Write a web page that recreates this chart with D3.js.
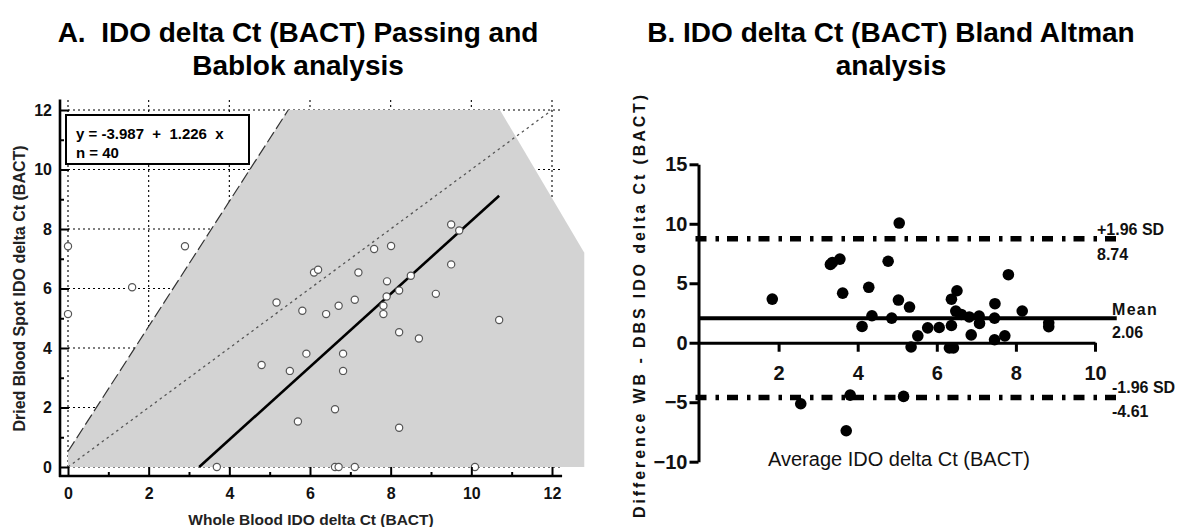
<!DOCTYPE html>
<html><head><meta charset="utf-8">
<script src="https://cdn.jsdelivr.net/npm/d3@7"></script>
<style>
body{margin:0;background:#fff;}
svg{display:block;font-family:Arial,"Liberation Sans",sans-serif;}
</style></head><body>
<svg id="chart" width="1189" height="527"></svg>
<script>
// ---------- Data ----------
// Panel A: Passing-Bablok scatter (Whole Blood vs Dried Blood Spot)
const wbDeltaCt  = [0, 2.90, 1.59, 0, 5.17, 4.80, 5.50, 5.70, 3.69, 5.81, 6.40, 6.71, 7.11, 7.90, 7.82, 7.82, 8.21, 9.12, 10.69, 8.21, 8.70, 5.91, 6.82, 6.82, 6.62, 8.21, 6.62, 6.71, 7.11, 10.09, 6.10, 6.20, 7.20, 7.59, 8.01, 7.91, 8.50, 9.50, 9.70, 9.50];
const dbsDeltaCt = [7.42, 7.42, 6.04, 5.14, 5.53, 3.43, 3.23, 1.53, 0, 5.25, 5.14, 5.42, 5.62, 5.73, 5.42, 5.14, 5.93, 5.82, 4.94, 4.53, 4.32, 3.81, 3.81, 3.23, 1.94, 1.32, 0, 0, 0, 0, 6.54, 6.63, 6.54, 7.33, 7.43, 6.24, 6.43, 8.15, 7.95, 6.81];
const pbIntercept = -3.987;
const pbSlope = 1.226;
const pbN = 40;
const pbFitRangeX = [3.252, 10.69];
const ciBandX = [0, 5.46, 10.71, 12.8, 12.8, 0];
const ciBandY = [0.52, 12, 12, 7.2, 0, 0];
const ciUpperX = [0, 5.46];
const ciUpperY = [0.52, 12];
const pbTicks = [0, 2, 4, 6, 8, 10, 12];
const pbMinorTicks = [1, 3, 5, 7, 9, 11];

// Panel B: Bland-Altman
const baAverage    = [3.71, 5.16, 3.81, 2.56, 5.35, 4.11, 4.36, 3.62, 1.84, 5.52, 5.77, 6.06, 6.37, 6.82, 6.62, 6.48, 7.07, 7.47, 7.81, 6.37, 6.51, 4.86, 5.31, 5.03, 4.28, 4.77, 3.31, 3.36, 3.55, 5.05, 6.32, 6.42, 6.87, 7.46, 7.72, 7.08, 7.46, 8.83, 8.83, 8.16];
const baDifference = [-7.40, -4.51, -4.40, -5.13, -0.36, 1.37, 2.27, 4.17, 3.67, 0.58, 1.25, 1.28, 1.45, 2.17, 2.38, 2.66, 2.24, 3.28, 5.72, 3.66, 4.37, 2.07, 3.00, 3.59, 4.66, 6.85, 6.58, 6.75, 7.03, 10.06, -0.44, -0.44, 0.66, 0.25, 0.58, 1.62, 2.07, 1.35, 1.68, 2.67];
const baMean = 2.06, baUpper = 8.74, baLower = -4.61;
const baLineEnd = 10.55;
const baXTicks = [2, 4, 6, 8, 10];
const baYTicks = [-10, -5, 0, 5, 10, 15];

const svg = d3.select('#chart');

// ---------- Titles ----------
const titles = [
  {x: 298, lines: ['A.  IDO delta Ct (BACT) Passing and', 'Bablok analysis']},
  {x: 891, lines: ['B. IDO delta Ct (BACT) Bland Altman', 'analysis']}
];
titles.forEach(t => {
  t.lines.forEach((ln, i) => {
    svg.append('text').attr('x', t.x).attr('y', 42 + i * 33)
      .attr('text-anchor', 'middle').attr('font-size', 28).attr('font-weight', 'bold')
      .attr('xml:space', 'preserve').style('white-space', 'pre').text(ln);
  });
});

// ---------- Panel A ----------
const xL = d3.scaleLinear().domain([0, 12]).range([68, 552]);
const yL = d3.scaleLinear().domain([0, 12]).range([467, 110]);
const gA = svg.append('g');

// grid
gA.selectAll('line.vg').data(pbTicks).join('line').attr('class', 'vg')
  .attr('x1', d => xL(d)).attr('x2', d => xL(d)).attr('y1', yL(0)).attr('y2', yL(12.35))
  .attr('stroke', '#000').attr('stroke-width', 1.1).attr('stroke-dasharray', '2,3');
gA.selectAll('line.hg').data(pbTicks).join('line').attr('class', 'hg')
  .attr('x1', xL(0)).attr('x2', xL(12.25)).attr('y1', d => yL(d)).attr('y2', d => yL(d))
  .attr('stroke', '#000').attr('stroke-width', 1.1).attr('stroke-dasharray', '2,3');

// confidence band
const lineL = d3.line().x(d => xL(d[0])).y(d => yL(d[1]));
gA.append('path').attr('d', lineL(d3.zip(ciBandX, ciBandY)) + 'Z')
  .attr('fill', '#d3d3d3').attr('stroke', 'none');
// upper CI dashed line
gA.append('path').attr('d', lineL(d3.zip(ciUpperX, ciUpperY)))
  .attr('fill', 'none').attr('stroke', '#333').attr('stroke-width', 1.2).attr('stroke-dasharray', '12,4');
// identity line
gA.append('path').attr('d', lineL([[0, 0], [12, 12]]))
  .attr('fill', 'none').attr('stroke', '#555').attr('stroke-width', 1.3).attr('stroke-dasharray', '2.5,3.5');
// regression line
gA.append('path').attr('d', lineL(pbFitRangeX.map(x => [x, pbIntercept + pbSlope * x])))
  .attr('fill', 'none').attr('stroke', '#000').attr('stroke-width', 2.6);

// points
gA.selectAll('circle').data(d3.zip(wbDeltaCt, dbsDeltaCt)).join('circle')
  .attr('cx', d => xL(d[0])).attr('cy', d => yL(d[1])).attr('r', 3.6)
  .attr('fill', '#fff').attr('stroke', '#555').attr('stroke-width', 1.2);

// axes
gA.append('g').attr('transform', 'translate(60,0)')
  .call(d3.axisLeft(yL).tickValues(pbTicks).tickSize(-9).tickSizeOuter(0).tickPadding(8));
gA.append('g').attr('transform', 'translate(60,0)')
  .call(d3.axisLeft(yL).tickValues(pbMinorTicks).tickSize(-4).tickSizeOuter(0).tickFormat(() => ''));
gA.append('g').attr('transform', 'translate(0,476)')
  .call(d3.axisBottom(xL).tickValues(pbTicks).tickSize(-9).tickSizeOuter(0).tickPadding(12));
gA.append('g').attr('transform', 'translate(0,476)')
  .call(d3.axisBottom(xL).tickValues(pbMinorTicks).tickSize(-4).tickSizeOuter(0).tickFormat(() => ''));
gA.selectAll('.domain').remove();
gA.selectAll('.tick line').attr('stroke', '#000').attr('stroke-width', 2);
gA.selectAll('.tick text').attr('font-size', 16).attr('font-weight', 'bold')
  .attr('font-family', 'Arial, "Liberation Sans", sans-serif').attr('fill', '#111');
gA.append('line').attr('x1', 60).attr('x2', 60).attr('y1', yL(12.35)).attr('y2', 477)
  .attr('stroke', '#000').attr('stroke-width', 2.6);
gA.append('line').attr('x1', 59).attr('x2', xL(12.25)).attr('y1', 476).attr('y2', 476)
  .attr('stroke', '#000').attr('stroke-width', 2.6);

// legend box
gA.append('rect').attr('x', 66).attr('y', 115).attr('width', 183).attr('height', 49)
  .attr('fill', '#fff').attr('stroke', '#000').attr('stroke-width', 2);
gA.append('text').attr('x', 76).attr('y', 139).attr('font-size', 15).attr('font-weight', 'bold')
  .attr('xml:space', 'preserve').style('white-space', 'pre')
  .text(`y = ${pbIntercept}  +  ${pbSlope}  x`);
gA.append('text').attr('x', 76).attr('y', 158).attr('font-size', 15).attr('font-weight', 'bold')
  .text(`n = ${pbN}`);

// axis titles
gA.append('text').attr('x', 311).attr('y', 525).attr('text-anchor', 'middle')
  .attr('font-size', 15.5).attr('font-weight', 'bold').attr('fill', '#222')
  .text('Whole Blood IDO delta Ct (BACT)');
gA.append('text').attr('transform', 'translate(25,288.5) rotate(-90)').attr('text-anchor', 'middle')
  .attr('font-size', 16).attr('font-weight', 'bold').attr('fill', '#222')
  .text('Dried Blood Spot IDO delta Ct (BACT)');

// ---------- Panel B ----------
const xR = d3.scaleLinear().domain([0, 10]).range([699.5, 1095]);
const yR = d3.scaleLinear().domain([-10, 15]).range([461.7, 164.3]);
const gB = svg.append('g');

gB.append('g').attr('transform', 'translate(698.5,0)')
  .call(d3.axisLeft(yR).tickValues(baYTicks).tickSize(9).tickSizeOuter(0).tickPadding(2));
gB.append('g').attr('transform', `translate(0,${yR(0)})`)
  .call(d3.axisBottom(xR).tickValues(baXTicks).tickSize(9).tickSizeOuter(0).tickPadding(14));
gB.selectAll('.domain').attr('stroke', '#000').attr('stroke-width', 3);
gB.selectAll('.tick line').attr('stroke', '#000').attr('stroke-width', 3);
gB.selectAll('.tick text').attr('font-size', 20).attr('font-weight', 'bold')
  .attr('font-family', 'Arial, "Liberation Sans", sans-serif').attr('fill', '#111');

// mean and limits
gB.append('line').attr('x1', xR(0)).attr('x2', xR(baLineEnd)).attr('y1', yR(baMean)).attr('y2', yR(baMean))
  .attr('stroke', '#000').attr('stroke-width', 4);
[baUpper, baLower].forEach(v => {
  gB.append('line').attr('x1', xR(0) - 4).attr('x2', xR(baLineEnd)).attr('y1', yR(v)).attr('y2', yR(v))
    .attr('stroke', '#000').attr('stroke-width', 5.5).attr('stroke-dasharray', '11,9,3.5,8');
});

// points
gB.selectAll('circle').data(d3.zip(baAverage, baDifference)).join('circle')
  .attr('cx', d => xR(d[0])).attr('cy', d => yR(d[1])).attr('r', 5.8).attr('fill', '#000');

// line labels
const baLabels = [
  {x: 1097, y: 235, t: '+1.96 SD', ls: 0},
  {x: 1097, y: 260, t: baUpper.toFixed(2), ls: 0},
  {x: 1112, y: 315, t: 'Mean', ls: 1.3},
  {x: 1112, y: 338, t: baMean.toFixed(2), ls: 0},
  {x: 1112, y: 393, t: '-1.96 SD', ls: 0},
  {x: 1112, y: 417, t: baLower.toFixed(2), ls: 0}
];
gB.selectAll('text.lbl').data(baLabels).join('text').attr('class', 'lbl')
  .attr('x', d => d.x).attr('y', d => d.y).attr('font-size', 16).attr('font-weight', 'bold')
  .attr('letter-spacing', d => d.ls).attr('fill', '#111').text(d => d.t);

// axis titles
gB.append('text').attr('x', 899).attr('y', 466).attr('text-anchor', 'middle')
  .attr('font-size', 20).attr('fill', '#111')
  .text('Average IDO delta Ct (BACT)');
gB.append('text').attr('transform', 'translate(645,518) rotate(-90)').attr('text-anchor', 'start')
  .attr('font-size', 16).attr('font-weight', 'bold').attr('letter-spacing', 2.9).attr('fill', '#111')
  .text('Difference WB - DBS IDO delta Ct (BACT)');
</script>
</body></html>
